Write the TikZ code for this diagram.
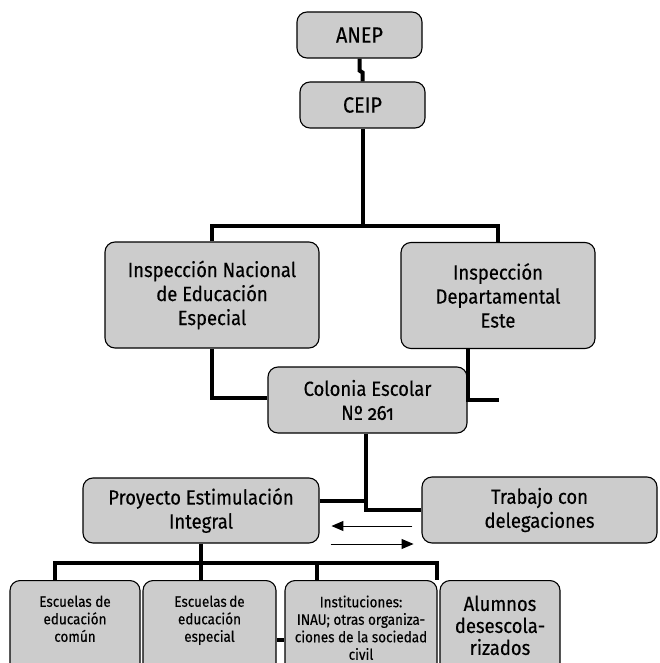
\documentclass[tikz,border=0pt]{standalone}
\usepackage{fontspec}
\setmainfont{Fira Sans}[FakeStretch=0.9,FakeBold=0.3,Numbers=OldStyle]
\usepackage{xcolor}
\usepackage{tikz}
\usetikzlibrary{arrows.meta,positioning,calc}
\definecolor{boxgray}{RGB}{204,204,204}
\newcommand\boxfont{\fontsize{20.5}{24}\selectfont}
\newcommand\lowfont{\fontsize{15}{17.5}\selectfont}

\begin{document}
\begin{tikzpicture}[x=1pt,y=-1pt,
  box/.style={draw, line width=1.1pt, rounded corners=10pt, fill=boxgray, align=center, inner sep=0pt, font=\boxfont},
  lowbox/.style={box, anchor=north, inner ysep=15pt, text depth=70pt, font=\lowfont},
  link/.style={line width=4pt},
  flow/.style={line width=1pt, -{Triangle[length=12pt,width=10pt]}}]
\clip (0,0) rectangle (659,663);
% top
\node[box, minimum width=125pt, minimum height=46pt, font=\fontsize{22}{24}\selectfont] (anep) at (359.5,35) {ANEP};
\node[box, minimum width=125pt, minimum height=46pt, font=\fontsize{22}{24}\selectfont] (ceip) at (362.5,105) {CEIP};
% inspections
\node[box, minimum width=214pt, minimum height=106pt] (inspnac) at (212,295) {Inspección Nacional\\de Educación\\Especial};
\node[box, minimum width=194pt, minimum height=106pt] (inspdep) at (498,295.5) {Inspección\\Departamental\\Este};
\node[box, minimum width=199pt, minimum height=66pt] (colonia) at (367.5,400) {Colonia Escolar\\Nº 261};
% projects
\node[box, minimum width=236pt, minimum height=65pt] (proyecto) at (201,510.5) {Proyecto Estimulación\\Integral};
\node[box, minimum width=235pt, minimum height=66pt] (trabajo) at (539.5,510) {Trabajo con\\delegaciones};
% bottom row
\node[lowbox, minimum width=130pt] (esccomun) at (75,580) {Escuelas de\\educación\\común};
\node[lowbox, minimum width=133pt] (escesp) at (209.5,580) {Escuelas\,de\\educación\\especial};
\node[lowbox, minimum width=152pt] (instit) at (361,580) {Instituciones:\\INAU; otras organiza-\\ciones de la sociedad\\civil};
\node[lowbox, minimum width=120pt, font=\fontsize{20.5}{22}\selectfont] (alumnos) at (500,580) {Alumnos\\desescola-\\rizados};
% links
\draw[link] (anep.south) -- ++(0,12) -- ++(3,2) -- (ceip.north);
\draw[link] (ceip.south) -- ++(0,97) coordinate (split1);
\draw[link] (inspnac.north) |- (split1) -| (inspdep.north);
\draw[link] (inspnac.south) |- ([yshift=2pt]colonia.west);
\draw[link] (inspdep.south -| colonia.east) -- (colonia.east) -- ++(31,0) coordinate (loose);
\draw[link] ([xshift=-2pt]colonia.south) |- (trabajo.west);
\draw[link] ([yshift=10pt]proyecto.east) -| ([xshift=-2pt]colonia.south);
% exchange arrows
\draw[flow] ([xshift=-9pt,yshift=-16pt]trabajo.west) -- ++(-81,0);
\draw[flow] ([xshift=11pt,yshift=-33.5pt]proyecto.east) -- ++(83,0);
% second level
\draw[link] (proyecto.south) -- (proyecto.south |- escesp.north);
\draw[link] ([xshift=-20pt]esccomun.north) -- ++(0,-17) -| ([xshift=-2pt]alumnos.north west);
\draw[link] ([xshift=-44pt]instit.north) -- ++(0,-17);
\draw[link] ([yshift=-60pt]escesp.north east) -- ([yshift=-60pt]instit.north west);
\end{tikzpicture}
\end{document}
